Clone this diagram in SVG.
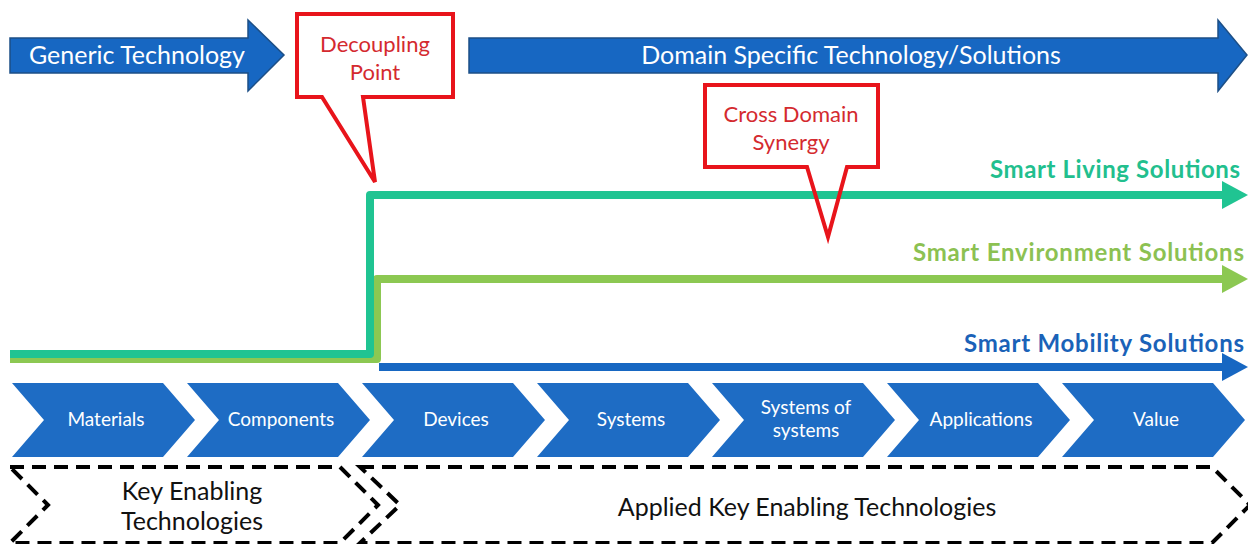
<svg xmlns="http://www.w3.org/2000/svg" width="1248" height="544" viewBox="0 0 1248 544">
  <style>
    .band { fill: #1767c2; stroke: #1d4f86; stroke-width: 1.5; }
    .band-text { fill: #ffffff; font-family: Lato, "Liberation Sans", sans-serif; font-size: 25px; text-anchor: middle; }
    .callout { fill: none; stroke: #e8141b; stroke-width: 4; stroke-linejoin: miter; }
    .callout-text { fill: #d42a2f; font-family: Lato, "Liberation Sans", sans-serif; font-size: 22px; text-anchor: middle; }
    .track { fill: none; stroke-width: 8; stroke-linejoin: round; }
    .track-label { font-family: Lato, "Liberation Sans", sans-serif; font-weight: bold; font-size: 24px; text-anchor: end; }
    .step { fill: #1e6cc4; }
    .step-text { fill: #ffffff; font-family: Lato, "Liberation Sans", sans-serif; font-size: 19px; text-anchor: middle; }
    .ket { fill: none; stroke: #000000; stroke-width: 4; stroke-dasharray: 14 8; }
    .ket-text { fill: #111111; font-family: Lato, "Liberation Sans", sans-serif; font-size: 25px; text-anchor: middle; }
  </style>
  <defs>
    <marker id="head-teal" markerUnits="userSpaceOnUse" markerWidth="26" markerHeight="28" viewBox="0 0 26 28" refX="0" refY="14" orient="auto">
      <path d="M0,0 L26,14 L0,28 Z" fill="#20c492"/>
    </marker>
    <marker id="head-green" markerUnits="userSpaceOnUse" markerWidth="26" markerHeight="28" viewBox="0 0 26 28" refX="0" refY="14" orient="auto">
      <path d="M0,0 L26,14 L0,28 Z" fill="#8cc852"/>
    </marker>
    <marker id="head-blue" markerUnits="userSpaceOnUse" markerWidth="26" markerHeight="28" viewBox="0 0 26 28" refX="0" refY="14" orient="auto">
      <path d="M0,0 L26,14 L0,28 Z" fill="#1767c2"/>
    </marker>
  </defs>

  <rect width="1248" height="544" fill="#ffffff"/>

  <!-- Top bands -->
  <g id="generic-technology">
    <path class="band" d="M10,38 H248 V20 L284,55 L248,91 V73 H10 Z"/>
    <text class="band-text" x="137" y="64">Generic Technology</text>
  </g>
  <g id="domain-specific">
    <path class="band" d="M469,38 H1218 V20 L1247,55 L1218,91 V73 H469 Z"/>
    <text class="band-text" x="851" y="64">Domain Specific Technology/Solutions</text>
  </g>

  <!-- Solution tracks -->
  <g id="connectors">
    <path class="track" stroke="#8cc852" d="M10,359 H377 V279 H1222" marker-end="url(#head-green)"/>
    <path class="track" stroke="#20c492" d="M10,354 H370 V195 H1222" marker-end="url(#head-teal)"/>
    <path class="track" stroke="#1767c2" stroke-width="7" d="M379,367 H1222" marker-end="url(#head-blue)"/>
  </g>

  <g id="smart-living">
    <text class="track-label" x="1240" y="178" fill="#22bf8e" textLength="250">Smart Living Solutions</text>
  </g>
  <g id="smart-environment">
    <text class="track-label" x="1244" y="261" fill="#8cc152" textLength="331">Smart Environment Solutions</text>
  </g>
  <g id="smart-mobility">
    <text class="track-label" x="1244" y="352" fill="#1a62b8" textLength="280">Smart Mobility Solutions</text>
  </g>

  <!-- Callouts -->
  <g id="decoupling-point">
    <path class="callout" fill="#ffffff" d="M297,14 H453 V97 H363 L375,182 L322,97 H297 Z"/>
    <text class="callout-text" x="375" y="52">Decoupling</text>
    <text class="callout-text" x="375" y="80">Point</text>
  </g>
  <g id="cross-domain-synergy">
    <path class="callout" d="M705,85 H878 V167 H847 L828,237 L807,167 H705 Z"/>
    <text class="callout-text" x="791" y="122">Cross Domain</text>
    <text class="callout-text" x="791" y="150">Synergy</text>
  </g>

  <!-- Value chain steps -->
  <g id="step-materials">
    <path class="step" d="M12,383 H163 L195,420 L163,457 H12 L44,420 Z"/>
    <text class="step-text" x="106" y="426">Materials</text>
  </g>
  <g id="step-components">
    <path class="step" d="M187,383 H338 L370,420 L338,457 H187 L219,420 Z"/>
    <text class="step-text" x="281" y="426">Components</text>
  </g>
  <g id="step-devices">
    <path class="step" d="M362,383 H513 L545,420 L513,457 H362 L394,420 Z"/>
    <text class="step-text" x="456" y="426">Devices</text>
  </g>
  <g id="step-systems">
    <path class="step" d="M537,383 H688 L720,420 L688,457 H537 L569,420 Z"/>
    <text class="step-text" x="631" y="426">Systems</text>
  </g>
  <g id="step-systems-of-systems">
    <path class="step" d="M712,383 H863 L895,420 L863,457 H712 L744,420 Z"/>
    <text class="step-text" x="806" y="414">Systems of</text>
    <text class="step-text" x="806" y="437">systems</text>
  </g>
  <g id="step-applications">
    <path class="step" d="M887,383 H1038 L1070,420 L1038,457 H887 L919,420 Z"/>
    <text class="step-text" x="981" y="426">Applications</text>
  </g>
  <g id="step-value">
    <path class="step" d="M1062,383 H1213 L1245,420 L1213,457 H1062 L1094,420 Z"/>
    <text class="step-text" x="1156" y="426">Value</text>
  </g>

  <!-- Technology groups -->
  <g id="key-enabling">
    <path class="ket" d="M10,467 H340 L378,505 L340,543 H10 L48,505 Z"/>
    <text class="ket-text" x="192" y="500">Key Enabling</text>
    <text class="ket-text" x="192" y="530">Technologies</text>
  </g>
  <g id="applied-key-enabling">
    <path class="ket" d="M360,467 H1212 L1250,505 L1212,543 H360 L400,505 Z"/>
    <text class="ket-text" x="807" y="516">Applied Key Enabling Technologies</text>
  </g>
</svg>
